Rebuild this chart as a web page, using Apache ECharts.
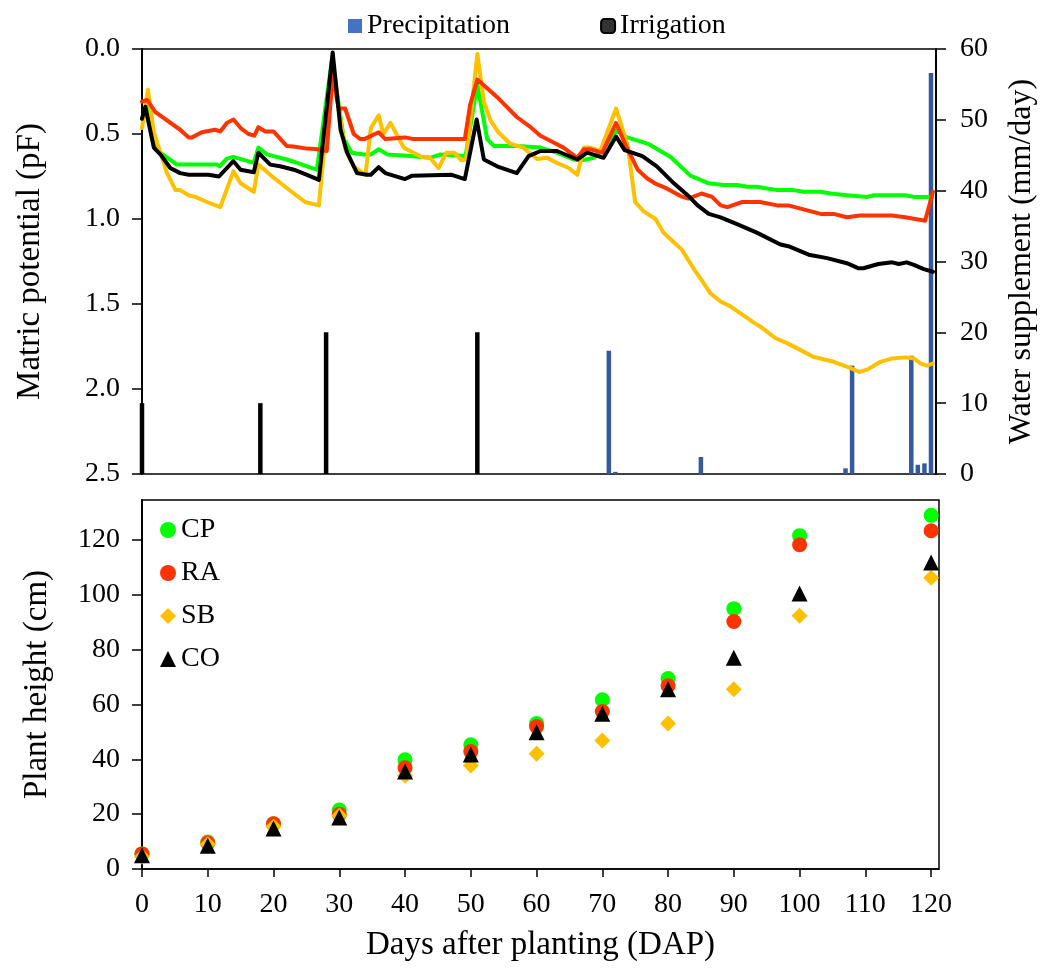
<!DOCTYPE html>
<html><head><meta charset="utf-8">
<script src="https://cdn.jsdelivr.net/npm/echarts@6/dist/echarts.min.js"></script>
<style>html,body{margin:0;padding:0;background:#fff}#c{width:1046px;height:974px}</style>
</head><body><div id="c"></div><script>
const FONT = '"Liberation Serif","Times New Roman",serif';

// ---- Top panel: matric potential (pF) ----
const cpDays = [0,0.8,1.7,2.8,5.3,11.4,11.8,12.9,13.9,17,17.7,19,22,23.6,25.1,26.6,28.9,30.7,31.9,33.7,34.8,36,37.3,40.8,43.8,45.4,49.2,51,52.5,53.5,57,60.6,63.1,65.6,66.9,68.7,70,72.1,73.8,77.1,80.4,83.4,86.2,88.5,90.5,92,93.5,96.6,99.1,100.6,103.2,104.7,107.2,110.3,111.3,116.1,117.4,120.2];
const cpPF   = [0.41,0.32,0.53,0.61,0.68,0.68,0.69,0.645,0.635,0.67,0.58,0.62,0.65,0.67,0.69,0.71,0.06,0.53,0.61,0.62,0.62,0.59,0.62,0.63,0.64,0.62,0.63,0.21,0.53,0.57,0.57,0.58,0.61,0.65,0.655,0.64,0.60,0.48,0.52,0.56,0.635,0.745,0.79,0.80,0.80,0.81,0.81,0.83,0.83,0.84,0.84,0.85,0.86,0.87,0.86,0.86,0.87,0.87];

const raDays = [0,0.8,2,5.8,7.1,7.6,9.1,11.1,11.9,12.9,13.9,15,16.2,17.1,17.7,18.75,20,22,23,25.1,26.4,28.1,29,29.9,30.9,32.2,33.2,33.8,36,37,40,41.3,49.1,49.9,51,54.2,57,59.1,60.6,62.6,64.1,66.2,67.2,68.2,70,72.1,73.6,75.4,76.8,78,79.8,81.9,83.1,85.1,86.7,88,89,91.3,94,96.6,98.3,103.2,105.2,107.2,109.2,114,116.1,119.1,120.3];
const raPF   = [0.31,0.30,0.37,0.475,0.52,0.52,0.49,0.475,0.485,0.435,0.415,0.465,0.50,0.51,0.46,0.485,0.485,0.57,0.573,0.586,0.588,0.60,0.15,0.35,0.35,0.50,0.53,0.53,0.49,0.53,0.52,0.53,0.53,0.33,0.18,0.29,0.40,0.46,0.51,0.55,0.58,0.64,0.59,0.59,0.61,0.435,0.57,0.71,0.76,0.79,0.82,0.865,0.88,0.85,0.87,0.92,0.93,0.90,0.90,0.92,0.92,0.97,0.97,0.99,0.98,0.98,0.99,1.01,0.84];

const sbDays = [0,0.9,1.8,2.8,3.8,5.1,5.8,7.1,8.1,9.9,11.9,13.9,15,17,17.7,19.8,23.1,24.8,26.9,29,29.9,30.9,32.2,34,34.8,36,36.7,37.8,39.8,41.3,42.6,43.8,45.1,46.3,47.5,48.6,49.3,51,52,53,54.2,56,58,60.1,61.6,63.1,64.9,66.2,67.2,68.2,69.7,72.1,73.9,75,76.3,78.1,79.3,80.6,82.1,84.2,85.4,86.4,88,89.5,93,94.3,96.3,98.1,100.1,102.1,105.2,107.7,109.1,110.3,112.3,114.1,116.1,117.4,118.4,119.4,120.3];
const sbPF   = [0.465,0.24,0.49,0.61,0.73,0.83,0.83,0.86,0.87,0.90,0.93,0.72,0.79,0.84,0.68,0.75,0.85,0.90,0.92,0.06,0.34,0.59,0.69,0.74,0.465,0.39,0.50,0.435,0.58,0.61,0.635,0.64,0.70,0.61,0.61,0.655,0.65,0.03,0.31,0.42,0.49,0.557,0.58,0.647,0.64,0.67,0.70,0.74,0.58,0.58,0.60,0.35,0.573,0.90,0.955,1.00,1.08,1.126,1.18,1.31,1.376,1.435,1.485,1.514,1.608,1.64,1.70,1.73,1.77,1.81,1.84,1.876,1.90,1.886,1.84,1.82,1.814,1.82,1.85,1.863,1.85];

const coDays = [0,0.5,1.8,2.8,4.3,5.8,7.1,10.1,11.7,13.9,15,17,17.7,19.5,21,23.1,25.1,26.9,29,30.2,31.2,32.7,34.2,34.8,36,37,40,41.1,47.1,49.1,50.9,52,54,57,58.8,60.6,63.1,66.2,67.7,70.2,72.1,73.4,76.1,78.3,80.9,82.9,84.5,86.2,88,90.5,93.5,97.1,98.3,101.4,104.2,107.2,109,109.7,112,114.1,115.1,116.3,117.4,118.9,120.3];
const coPF   = [0.41,0.34,0.58,0.62,0.70,0.73,0.74,0.74,0.75,0.66,0.71,0.725,0.61,0.68,0.69,0.71,0.74,0.77,0.02,0.475,0.61,0.73,0.74,0.74,0.695,0.73,0.765,0.745,0.74,0.765,0.415,0.65,0.69,0.73,0.63,0.60,0.60,0.65,0.61,0.64,0.515,0.595,0.63,0.69,0.79,0.857,0.92,0.97,0.99,1.03,1.08,1.15,1.16,1.21,1.23,1.26,1.29,1.29,1.265,1.255,1.265,1.255,1.27,1.295,1.31];

// ---- Water supplement (mm/day) ----
const irrigDays = [0, 18, 28, 51];
const irrigMM   = [10, 10, 20, 20];
const precipDays = [71, 72, 85, 107, 108, 117, 118, 119, 120];
const precipMM   = [17.4, 0.3, 2.4, 0.8, 15.3, 16.7, 1.3, 1.5, 56.6];

// ---- Bottom panel: plant height (cm) ----
const heightDays = [0,10,20,30,40,50,60,70,80,90,100,120];
const cpHeight = [5.5,9.8,16.5,21.5,39.8,45.3,53,61.7,69.4,94.9,121.5,128.9];
const raHeight = [5.5,9.5,16.5,20,36.9,42.8,51.9,57.4,66.8,90.2,118.2,123.3];
const sbHeight = [4.5,9,15.5,19.5,34,37.7,42,46.8,53,65.5,92.3,106.2];
const coHeight = [5,8.5,14.8,18.8,35.5,41.7,49.8,56.6,65.5,77,100.4,111.7];

// ---- Tick labels ----
const pfTicks = [0, 0.5, 1, 1.5, 2, 2.5];
const mmTicks = [0, 10, 20, 30, 40, 50, 60];
const dapTicks = [0,10,20,30,40,50,60,70,80,90,100,110,120];
const heightTicks = [0,20,40,60,80,100,120];

const zip = (a, b) => a.map((v, i) => [v, b[i]]);
const C = {cp:'#00FF00', ra:'#FF3300', sb:'#FFC000', co:'#000000'};
const txt = (s) => ({fontFamily: FONT, fontSize: s, color: '#000'});

const chart = echarts.init(document.getElementById('c'), null, {renderer: 'canvas'});
const lineS = (name, d, v, color, z) => ({
  name, type: 'line', xAxisIndex: 0, yAxisIndex: 0, data: zip(d, v),
  showSymbol: false, symbol: 'none', smooth: false, z,
  lineStyle: {color, width: 4, join: 'round', cap: 'round'}, itemStyle: {color},
  animation: false, silent: true
});
const scatS = (name, v, symbol, size, color) => ({
  name, type: 'scatter', xAxisIndex: 1, yAxisIndex: 2, data: zip(heightDays, v),
  symbol, symbolSize: size, itemStyle: {color, opacity: 1}, animation: false
});

chart.setOption({
  backgroundColor: '#fff',
  animation: false,
  legend: [
    {
      data: [
        {name: 'Precipitation', icon: 'rect', itemStyle: {color: '#4472C4'}},
        {name: 'Irrigation', icon: 'roundRect', itemStyle: {color: '#333333', borderColor: '#000', borderWidth: 2}}
      ],
      left: 343, top: 7, itemWidth: 14, itemHeight: 14, itemGap: 90,
      textStyle: txt(28), selectedMode: false
    },
    {
      data: ['CP', 'RA', 'SB', 'CO'], orient: 'vertical',
      left: 155, top: 511, itemWidth: 16, itemHeight: 16, itemGap: 15,
      textStyle: txt(28), selectedMode: false
    }
  ],
  grid: [
    {left: 142, top: 49, width: 794, height: 425, show: true, borderColor: '#000', borderWidth: 1.5, containLabel: false},
    {left: 142, top: 500, width: 797, height: 369, show: true, borderColor: '#000', borderWidth: 1.5, containLabel: false}
  ],
  xAxis: [
    {gridIndex: 0, type: 'value', min: 0, max: 120.76, show: false, splitLine: {show: false}},
    {gridIndex: 1, type: 'value', min: 0, max: 121.2,
     name: 'Days after planting (DAP)', nameLocation: 'middle', nameGap: 60, nameTextStyle: txt(33),
     axisLine: {show: true, onZero: false, lineStyle: {color: '#000', width: 1.5}},
     axisTick: {show: true, inside: false, length: 8, customValues: dapTicks, lineStyle: {color: '#000', width: 1.5}},
     axisLabel: {customValues: dapTicks, margin: 22, ...txt(28)},
     splitLine: {show: false}}
  ],
  yAxis: [
    {gridIndex: 0, type: 'value', min: 0, max: 2.5, interval: 0.5, inverse: true,
     name: 'Matric potential (pF)', nameLocation: 'middle', nameGap: 95, nameTextStyle: txt(33),
     axisLine: {show: true, lineStyle: {color: '#000', width: 2}},
     axisTick: {show: true, inside: false, length: 10, lineStyle: {color: '#000', width: 1.5}},
     axisLabel: {margin: 22, formatter: v => v.toFixed(1), ...txt(28)},
     splitLine: {show: false}},
    {gridIndex: 0, type: 'value', position: 'right', min: 0, max: 60, interval: 10,
     name: 'Water supplement (mm/day)', nameLocation: 'middle', nameGap: 70, nameRotate: 90, nameTextStyle: txt(32),
     axisLine: {show: true, lineStyle: {color: '#000', width: 2}},
     axisTick: {show: true, inside: false, length: 10, lineStyle: {color: '#000', width: 1.5}},
     axisLabel: {margin: 24, ...txt(28)},
     splitLine: {show: false}},
    {gridIndex: 1, type: 'value', min: 0, max: 134.5,
     name: 'Plant height (cm)', nameLocation: 'middle', nameGap: 88, nameTextStyle: txt(33),
     axisLine: {show: true, lineStyle: {color: '#000', width: 2}},
     axisTick: {show: true, inside: false, length: 10, customValues: heightTicks, lineStyle: {color: '#000', width: 1.5}},
     axisLabel: {customValues: heightTicks, margin: 22, ...txt(28)},
     splitLine: {show: false}}
  ],
  series: [
    {name: 'Precipitation', type: 'bar', xAxisIndex: 0, yAxisIndex: 1, data: zip(precipDays, precipMM),
     barWidth: 4.5, barGap: '-100%', itemStyle: {color: '#35599C'}, z: 1},
    {name: 'Irrigation', type: 'bar', xAxisIndex: 0, yAxisIndex: 1, data: zip(irrigDays, irrigMM),
     barWidth: 4.5, barGap: '-100%', itemStyle: {color: '#000'}, z: 1},
    lineS('CP line', cpDays, cpPF, C.cp, 3),
    lineS('SB line', sbDays, sbPF, C.sb, 4),
    lineS('RA line', raDays, raPF, C.ra, 5),
    lineS('CO line', coDays, coPF, C.co, 6),
    scatS('CP', cpHeight, 'circle', 15, C.cp),
    scatS('RA', raHeight, 'circle', 15, C.ra),
    scatS('SB', sbHeight, 'diamond', 16, C.sb),
    scatS('CO', coHeight, 'triangle', 16, C.co)
  ]
});
</script></body></html>
